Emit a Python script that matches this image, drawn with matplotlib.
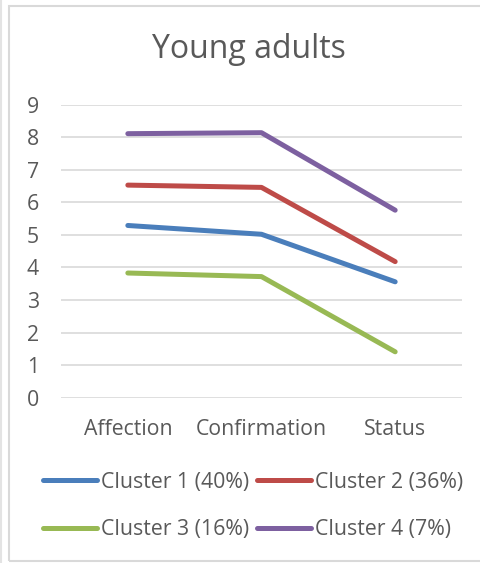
import matplotlib
matplotlib.use("Agg")
import matplotlib.pyplot as plt
from matplotlib.patches import Rectangle
from matplotlib.lines import Line2D

categories = ["Affection", "Confirmation", "Status"]
cluster1 = [5.29, 5.02, 3.56]
cluster2 = [6.53, 6.46, 4.18]
cluster3 = [3.83, 3.72, 1.41]
cluster4 = [8.11, 8.14, 5.76]
series_labels = ["Cluster 1 (40%)", "Cluster 2 (36%)", "Cluster 3 (16%)", "Cluster 4 (7%)"]
y_ticks = list(range(0, 10))

colors = ["#4A7EBB", "#BE4B48", "#98B954", "#7D60A0"]
text_color = "#595959"
grid_color = "#D9D9D9"
font = "Open Sans"
label_size = 15.3

fig = plt.figure(figsize=(4.8, 5.63), dpi=100)

# chart frame
fig.add_artist(Rectangle((8.5 / 480, 1 - 561 / 563), 1.0, (561 - 5.5) / 563,
                         transform=fig.transFigure, fill=False,
                         edgecolor="#D9D9D9", linewidth=1.5))
fig.add_artist(Line2D([1 / 480, 1 / 480], [0, 1], transform=fig.transFigure,
                      color="#E3E3E3", linewidth=1.5))

ax = fig.add_axes([61 / 480, 1 - 397.7 / 563, (462 - 61) / 480, (397.7 - 104.7) / 563])
x = range(len(categories))
series = [cluster1, cluster2, cluster3, cluster4]
handles = []
for vals, c, lab in zip(series, colors, series_labels):
    h, = ax.plot(x, vals, color=c, linewidth=3.6, solid_capstyle="round",
                 solid_joinstyle="round", label=lab, zorder=3)
    handles.append(h)

ax.set_xlim(-0.5, 2.5)
ax.set_ylim(0, 9)
ax.set_yticks(y_ticks)
ax.set_xticks(list(x))
ax.set_xticklabels(categories)
ax.grid(axis="y", color=grid_color, linewidth=1.2)
ax.set_axisbelow(True)
for s in ax.spines.values():
    s.set_visible(False)
ax.tick_params(length=0, labelsize=label_size, labelcolor=text_color)
ax.tick_params(axis="y", pad=16)
ax.tick_params(axis="x", pad=15)
for lbl in ax.get_xticklabels() + ax.get_yticklabels():
    lbl.set_fontfamily(font)

fig.text(249 / 480, 1 - 50 / 563, "Young adults", ha="center", va="center",
         fontsize=23, color=text_color, fontfamily=font)

order = [0, 2, 1, 3]
leg = fig.legend([handles[i] for i in order], [series_labels[i] for i in order],
                 ncol=2, loc="center", bbox_to_anchor=(253 / 480, 1 - 506 / 563),
                 frameon=False, handlelength=2.57, handletextpad=0.19,
                 columnspacing=0.33, labelspacing=1.25,
                 prop={"family": font, "size": label_size})
for t in leg.get_texts():
    t.set_color(text_color)

fig.savefig("out.png", dpi=100)
